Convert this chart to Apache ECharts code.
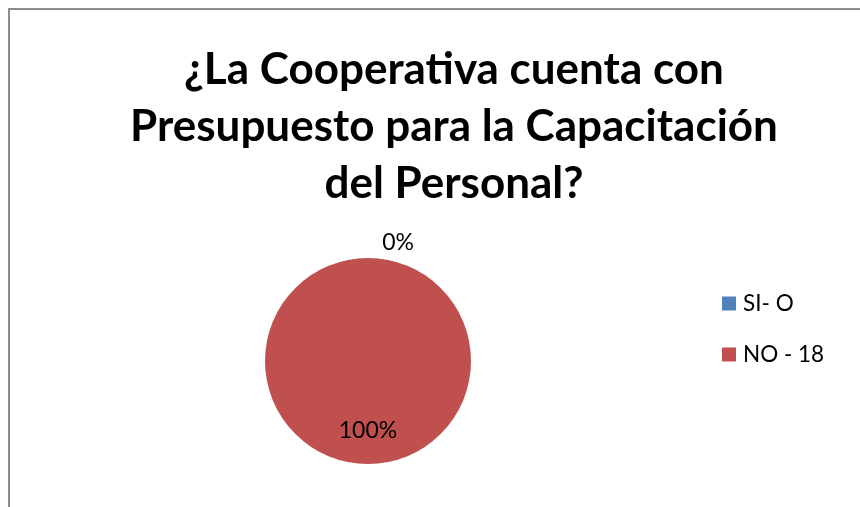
<!DOCTYPE html>
<html>
<head>
<meta charset="utf-8">
<style>
  html, body { margin: 0; padding: 0; background: #fff; }
  #chart { width: 860px; height: 507px; }
</style>
<script src="https://cdn.jsdelivr.net/npm/echarts@6/dist/echarts.min.js"></script>
</head>
<body>
<div id="chart"></div>
<script>
// Survey answers and counts
const categories = ['SI- O', 'NO - 18'];
const counts = [0, 18];
const sliceColors = ['#4F81BD', '#C0504D'];
const titleText = '¿La Cooperativa cuenta con\nPresupuesto para la Capacitación\ndel Personal?';

const chart = echarts.init(document.getElementById('chart'), null, { renderer: 'canvas' });

const option = {
  backgroundColor: '#fff',
  animation: false,
  graphic: [{
    type: 'rect',
    shape: { x: 9, y: 9, width: 900, height: 600 },
    style: { fill: 'none', stroke: '#8c8c8c', lineWidth: 2 },
    silent: true,
    z: -1
  }],
  title: {
    text: titleText,
    left: 449,
    top: 36,
    textAlign: 'center',
    textStyle: {
      fontFamily: 'Lato',
      fontWeight: 'bold',
      fontSize: 44,
      lineHeight: 57,
      color: '#000'
    }
  },
  legend: {
    orient: 'vertical',
    left: 722,
    top: 292,
    padding: 0,
    itemWidth: 14,
    itemHeight: 14,
    itemGap: 28,
    icon: 'rect',
    textStyle: { fontFamily: 'Lato', fontSize: 22.5, color: '#000', padding: [0, 0, 0, 2] },
    data: categories
  },
  series: [{
    type: 'pie',
    center: [368, 361],
    radius: 103,
    startAngle: 90,
    clockwise: true,
    minAngle: 0,
    avoidLabelOverlap: false,
    stillShowZeroSum: true,
    itemStyle: { borderWidth: 0 },
    label: {
      show: true,
      formatter: '{d}%',
      fontFamily: 'Lato',
      fontSize: 23,
      color: '#000'
    },
    labelLine: { show: false },
    labelLayout: function (params) {
      if (params.dataIndex === 1) {
        return { dy: 15 };
      }
      return { dx: 81 };
    },
    data: categories.map((name, i) => ({
      name: name,
      value: counts[i],
      itemStyle: { color: sliceColors[i] },
      label: i === 1 ? { position: 'inside' } : { position: 'outside' }
    }))
  }]
};

chart.setOption(option);
</script>
</body>
</html>
